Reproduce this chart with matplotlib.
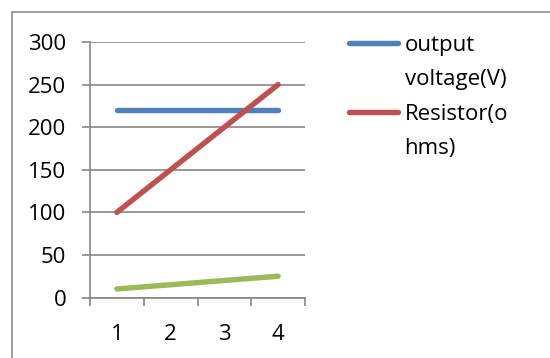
import matplotlib
matplotlib.use("Agg")
import matplotlib.pyplot as plt
from matplotlib.lines import Line2D
from matplotlib.patches import Rectangle

plt.rcParams['font.family'] = ['Open Sans', 'DejaVu Sans']

categories = [1, 2, 3, 4]
output_voltage = [220, 220, 220, 220]
resistor = [100, 150, 200, 250]
third_series = [10, 15, 20, 25]
y_ticks = [0, 50, 100, 150, 200, 250, 300]

blue = "#4F81BD"
red = "#C0504D"
green = "#9BBB59"
grid_gray = "#868686"

W, H = 550, 358
fig = plt.figure(figsize=(W / 100, H / 100), dpi=100)
ax = fig.add_axes([90 / W, 1 - 297.5 / H, (305 - 90) / W, (297.5 - 42) / H])

lw = 3.9
ax.plot(categories, output_voltage, color=blue, lw=lw, solid_capstyle='round')
ax.plot(categories, resistor, color=red, lw=lw, solid_capstyle='round')
ax.plot(categories, third_series, color=green, lw=lw, solid_capstyle='round')

ax.set_xlim(0.5, 4.5)
ax.set_ylim(0, 300)
ax.set_yticks(y_ticks)
ax.set_xticks(categories)
ax.set_xticks([c - 0.5 for c in categories] + [categories[-1] + 0.5], minor=True)
ax.yaxis.grid(True, color=grid_gray, lw=1.2)
ax.set_axisbelow(True)

for side in ("top", "right"):
    ax.spines[side].set_visible(False)
for side in ("left", "bottom"):
    ax.spines[side].set_color(grid_gray)
    ax.spines[side].set_linewidth(1.2)

ax.tick_params(axis='y', length=6, width=1.2, color=grid_gray, pad=11, labelsize=16)
ax.tick_params(axis='x', which='major', length=0, pad=19, labelsize=16)
ax.tick_params(axis='x', which='minor', length=6, width=1.2, color=grid_gray)

# legend: blank handles carry the wrapped second lines
blank = Line2D([], [], color='none')
handles = [Line2D([], [], color=blue, lw=lw, solid_capstyle='round'), blank,
           Line2D([], [], color=red, lw=lw, solid_capstyle='round'), blank]
labels = ["output", "voltage(V)", "Resistor(o", "hms)"]
fig.legend(handles, labels, loc='upper left', bbox_to_anchor=(349 / W, 1 - 35 / H),
           frameon=False, fontsize=16, handlelength=2.2, handletextpad=0.3,
           labelspacing=0.6, borderpad=0, borderaxespad=0)

# chart border, running off the right and bottom edges
fig.add_artist(Rectangle((12 / W, -0.1), 1.2, 1.1 - 12 / H, transform=fig.transFigure,
                         fill=False, edgecolor="#8C8C8C", lw=1.2))

fig.savefig("out.png", dpi=100)
